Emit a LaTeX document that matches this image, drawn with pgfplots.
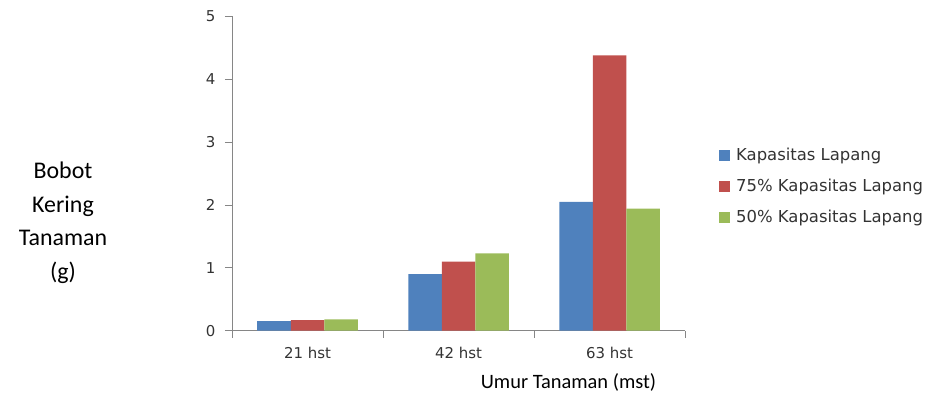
\documentclass[border=0pt]{standalone}
\usepackage{pgfplots}
\pgfplotsset{compat=1.18}
\usepackage{fontspec}
\setmainfont{DejaVu Sans}
\newfontfamily\calib{Carlito}
\definecolor{axgray}{HTML}{868686}
\definecolor{cblue}{HTML}{4F81BD}
\definecolor{cred}{HTML}{C0504D}
\definecolor{cgreen}{HTML}{9BBB59}
\begin{document}
\begin{tikzpicture}
\useasboundingbox (-232bp,-67.3bp) rectangle (695bp,330.7bp);
\begin{axis}[
  at={(0,0)}, anchor=south west,
  scale only axis, width=453bp, height=314.4bp,
  xmin=-0.5, xmax=2.5, ymin=0, ymax=5,
  axis lines*=left,
  axis line style={draw=axgray, line width=0.8bp},
  ybar=0pt, bar width=33.5bp,
  xtick={0,1,2}, xticklabels={21 hst,42 hst,63 hst},
  xtick style={draw=none},
  extra x ticks={-0.5,0.5,1.5,2.5}, extra x tick labels={},
  extra x tick style={xtick style={draw=axgray, line width=0.8bp}},
  ytick={0,1,2,3,4,5},
  ytick style={draw=axgray, line width=0.8bp},
  tick align=outside, major tick length=7bp,
  /pgf/number format/assume math mode=true,
  tick label style={font=\fontsize{15}{17}\selectfont, text=black!80},
  xticklabel style={yshift=-6bp},
  yticklabel style={xshift=-6bp},
  legend style={at={(1.075,0.46)}, anchor=west, draw=none, fill=none,
    font=\fontsize{16.5}{19}\selectfont, text=black!80, row sep=13bp, inner sep=0pt,
    /tikz/every even column/.append style={column sep=0bp},
    nodes={inner xsep=6bp}},
  legend cell align=left,
  legend image code/.code={\fill[#1] (0bp,-5.5bp) rectangle (11bp,5.5bp);},
]
\addplot[fill=cblue, draw=none] coordinates {(0,0.154) (1,0.90) (2,2.05)};
\addplot[fill=cred, draw=none] coordinates {(0,0.17) (1,1.10) (2,4.38)};
\addplot[fill=cgreen, draw=none] coordinates {(0,0.18) (1,1.23) (2,1.94)};
\legend{Kapasitas Lapang, 75\% Kapasitas Lapang, 50\% Kapasitas Lapang}
\end{axis}
\node[align=center, font=\calib\fontsize{24}{33.5}\selectfont] at (-169bp,108bp) {Bobot\\Kering\\Tanaman\\(g)};
\node[font=\calib\fontsize{20.5}{24}\selectfont] at (336.5bp,-51.3bp) {Umur Tanaman (mst)};
\end{tikzpicture}
\end{document}
